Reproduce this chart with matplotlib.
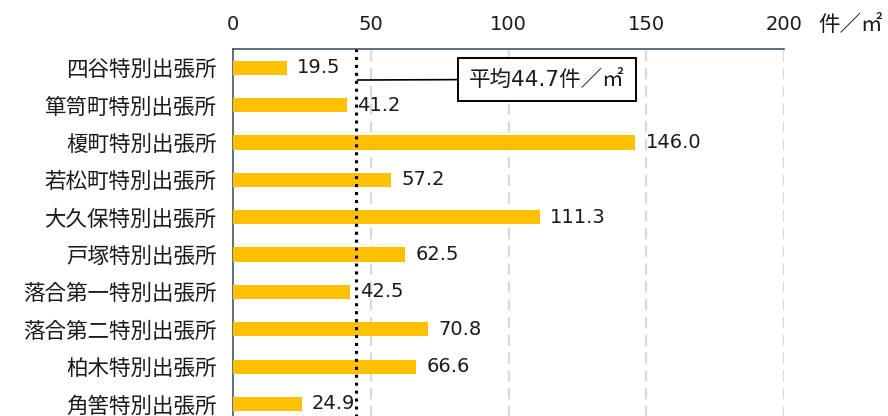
import matplotlib
matplotlib.use("Agg")
import matplotlib.pyplot as plt

plt.rcParams['font.family'] = ['DejaVu Sans', 'Noto Sans CJK JP']

categories = ["四谷特別出張所", "箪笥町特別出張所", "榎町特別出張所", "若松町特別出張所",
              "大久保特別出張所", "戸塚特別出張所", "落合第一特別出張所", "落合第二特別出張所",
              "柏木特別出張所", "角筈特別出張所"]
values = [19.5, 41.2, 146.0, 57.2, 111.3, 62.5, 42.5, 70.8, 66.6, 24.9]
average = 44.7
xticks = [0, 50, 100, 150, 200]
unit_label = "件／㎡"
avg_label = "平均44.7件／㎡"

cjk = ['Noto Sans CJK JP', 'DejaVu Sans']

fig = plt.figure(figsize=(8.88, 4.16), dpi=100)
ax = fig.add_axes([233/888, -0.016, 551/888, 0.8822 + 0.016])

y = list(range(len(categories)))
ax.barh(y, values, height=0.38, color="#FFC000", zorder=3)
for yi, v in zip(y, values):
    ax.text(v + 3.8, yi, f"{v:.1f}", va="center", ha="left", fontsize=14,
            color="#1a1a1a", zorder=5)

ax.set_xlim(0, 200)
ax.set_ylim(len(categories) - 0.5, -0.5)
ax.set_yticks(y)
ax.set_yticklabels(categories, fontsize=15.5, family=cjk, color="#1a1a1a")
ax.set_xticks(xticks)
ax.set_xticklabels([str(t) for t in xticks], fontsize=14, color="#1a1a1a")
ax.xaxis.tick_top()
ax.tick_params(axis="x", length=0, pad=11)
ax.tick_params(axis="y", length=0, pad=12)

for t in xticks[1:]:
    ax.axvline(t, color="#D9D9D9", lw=1.6, ls=(0, (5, 3)), zorder=1)

for s in ["right", "bottom"]:
    ax.spines[s].set_visible(False)
for s in ["left", "top"]:
    ax.spines[s].set_color("#44546A")
    ax.spines[s].set_linewidth(1.2)

ax.axvline(average, color="black", lw=2.2, ls=(0, (1, 1.6)), zorder=4)

ax.annotate(avg_label, xy=(average + 0.5, 0.33), xytext=(114, 0.31),
            fontsize=15.5, ha="center", va="center", color="#1a1a1a",
            bbox=dict(boxstyle="square,pad=0.5", fc="white", ec="black", lw=1.4),
            arrowprops=dict(arrowstyle="-", color="black", lw=1.2, shrinkA=0, shrinkB=0),
            zorder=6)

fig.text(818/888, 1 - 25/416, unit_label, fontsize=15.5, va="center", ha="left",
         family=cjk, color="#1a1a1a")

fig.savefig("out.png", dpi=100)
